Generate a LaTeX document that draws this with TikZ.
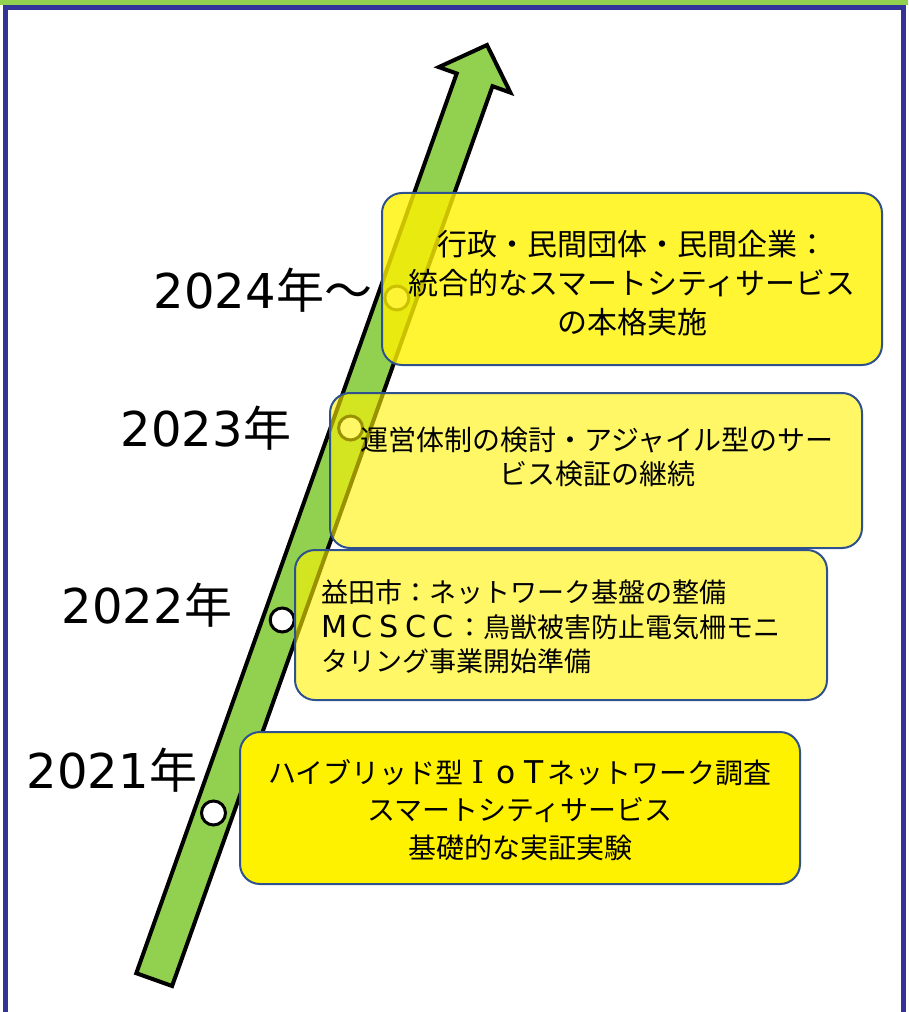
\documentclass[tikz,border=0pt]{standalone}
\usepackage{fontspec}
\setmainfont{Noto Sans CJK JP}
\newfontfamily\dv{DejaVu Sans}
\newfontfamily\dvbig[Scale=1.12]{DejaVu Sans}
\newfontfamily\dvserif[Scale=1.12]{DejaVu Serif}
\newcommand\fwc[1]{\makebox[1em][c]{\dvbig #1}}
\newcommand\fwi{\makebox[1em][c]{\dvserif I}}
\definecolor{framegreen}{HTML}{92D050}
\definecolor{frameblue}{HTML}{333399}
\definecolor{boxblue}{HTML}{2F528F}
\definecolor{arrowgreen}{HTML}{92D050}
\begin{document}
\begin{tikzpicture}[x=0.75pt,y=-0.75pt,
  box/.style={draw=boxblue, line width=1.5pt, rounded corners=15pt, inner sep=0pt},
  yearlabel/.style={font=\fontsize{36}{40}\selectfont, inner sep=0pt},
  dot/.style={circle, draw=black, fill=white, line width=2.25pt, minimum size=18pt, inner sep=0pt},
  boxtext/.style={inner sep=0pt}
]
\useasboundingbox (0,0) rectangle (908,1012);
% frame
\fill[framegreen] (0,0) rectangle (908,5.5);
\draw[frameblue, line width=3.75pt] (5,8) rectangle (903,1014);
% arrow
\draw[fill=arrowgreen, line width=3pt, line join=miter]
  (487,45) -- (510.4,92.6) -- (492.5,86.2) -- (172.1,986.0) -- (136.3,973.2)
  -- (456.7,73.5) -- (438.8,67.1) -- cycle;
% milestones
\node[dot] (c2021) at (213.5,813) {};
\node[dot] (c2022) at (282.2,620) {};
\node[dot] (c2023) at (350.6,428) {};
\node[dot] (c2024) at (396.9,298) {};
% boxes
\node[box, fill=yellow, fill opacity=0.8, minimum width=375pt, minimum height=129pt] (b2024) at (632,279) {};
\node[box, fill=yellow, fill opacity=0.6, minimum width=399pt, minimum height=116.25pt] (b2023) at (596,470.5) {};
\node[box, fill=yellow, fill opacity=0.6, minimum width=399pt, minimum height=112.5pt] (b2022) at (561,625) {};
\node[box, fill=yellow, minimum width=420pt, minimum height=114pt] (b2021) at (520,808) {};
% box texts
\node[boxtext, font=\fontsize{22.5}{29.25}\selectfont, align=center] (t2024) at (632,283)
  {行政・民間団体・民間企業：\\統合的なスマートシティサービス\\の本格実施};
\node[boxtext, font=\fontsize{21}{25.5}\selectfont, align=center] (t2023) at (597,457)
  {運営体制の検討・アジャイル型のサー\\ビス検証の継続};
\node[boxtext, font=\fontsize{20.25}{25.9}\selectfont, align=left, anchor=west] (t2022) at (321,627)
  {益田市：ネットワーク基盤の整備\\\fwc{M}\fwc{C}\fwc{S}\fwc{C}\fwc{C}：鳥獣被害防止電気柵モニ\\タリング事業開始準備};
\node[boxtext, font=\fontsize{21}{28.1}\selectfont, align=center] (t2021) at (520,810)
  {ハイブリッド型\fwi\fwc{o}\fwc{T}ネットワーク調査\\スマートシティサービス\\基礎的な実証実験};
% year labels
\node[yearlabel] (y2024) at (263,290) {{\dv 2024}年～};
\node[yearlabel] (y2023) at (206,428) {{\dv 2023}年};
\node[yearlabel] (y2022) at (147,605) {{\dv 2022}年};
\node[yearlabel] (y2021) at (112,770) {{\dv 2021}年};
\end{tikzpicture}
\end{document}
